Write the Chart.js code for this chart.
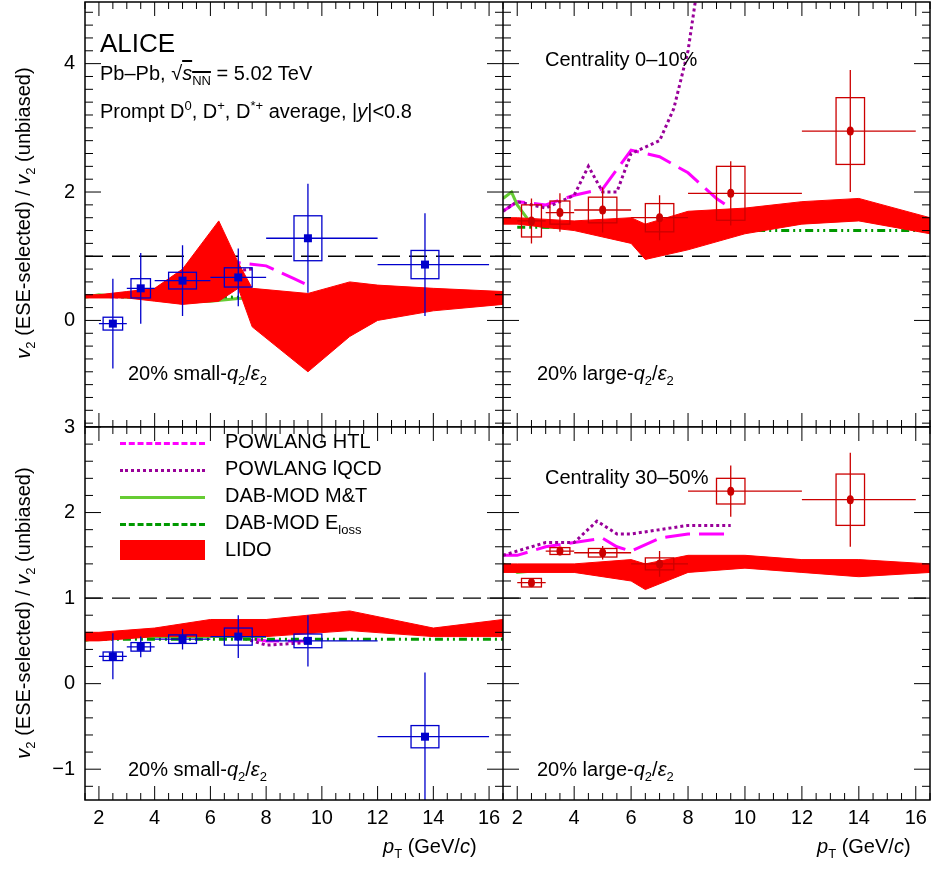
<!DOCTYPE html>
<html lang="en">
<head>
<meta charset="UTF-8">
<title>v2 ESE ratio</title>
<script src="https://cdn.jsdelivr.net/npm/chart.js"></script>
<style>
body{margin:0;width:950px;height:869px;background:#fff;font-family:"Liberation Sans",Arial,sans-serif;position:relative;overflow:hidden}
canvas{position:absolute}
.t{position:absolute;font-size:20px;white-space:nowrap;color:#000}
.lg{position:absolute;left:120px;width:85px}
</style>
</head>
<body>
<canvas id="tl" style="left:0;top:0" width="503" height="427"></canvas>
<canvas id="tr" style="left:503px;top:0" width="447" height="427"></canvas>
<canvas id="bl" style="left:0;top:417px" width="503" height="452"></canvas>
<canvas id="br" style="left:503px;top:417px" width="447" height="452"></canvas>

<div class="t" style="left:100px;top:28px;font-size:26px">ALICE</div>
<div class="t" style="left:100px;top:62px">Pb–Pb, √<span style="text-decoration:overline"><i>s</i><sub style="font-size:13px">NN</sub></span> = 5.02 TeV</div>
<div class="t" style="left:100px;top:98px">Prompt D<sup style="font-size:13px">0</sup>, D<sup style="font-size:13px">+</sup>, D<sup style="font-size:13px">*+</sup> average, |<i>y</i>|&lt;0.8</div>
<div class="t" style="left:545px;top:48px">Centrality 0–10%</div>
<div class="t" style="left:545px;top:466px">Centrality 30–50%</div>
<div class="t" style="left:128px;top:362px">20% small-<i>q</i><sub style="font-size:13px">2</sub>/<i>ε</i><sub style="font-size:13px">2</sub></div>
<div class="t" style="left:537px;top:362px">20% large-<i>q</i><sub style="font-size:13px">2</sub>/<i>ε</i><sub style="font-size:13px">2</sub></div>
<div class="t" style="left:128px;top:758px">20% small-<i>q</i><sub style="font-size:13px">2</sub>/<i>ε</i><sub style="font-size:13px">2</sub></div>
<div class="t" style="left:537px;top:758px">20% large-<i>q</i><sub style="font-size:13px">2</sub>/<i>ε</i><sub style="font-size:13px">2</sub></div>
<div class="t" style="left:-155px;top:200px;width:360px;text-align:center;transform:rotate(-90deg)"><i>v</i><sub style="font-size:13px">2</sub> (ESE-selected) / <i>v</i><sub style="font-size:13px">2</sub> (unbiased)</div>
<div class="t" style="left:-155px;top:600px;width:360px;text-align:center;transform:rotate(-90deg)"><i>v</i><sub style="font-size:13px">2</sub> (ESE-selected) / <i>v</i><sub style="font-size:13px">2</sub> (unbiased)</div>
<div class="t" style="left:383px;top:835px"><i>p</i><sub style="font-size:13px">T</sub> (GeV/<i>c</i>)</div>
<div class="t" style="left:817px;top:835px"><i>p</i><sub style="font-size:13px">T</sub> (GeV/<i>c</i>)</div>

<div class="lg" style="top:442px;border-top:3px dashed #ff00ff"></div>
<div class="t" style="left:225px;top:430px">POWLANG HTL</div>
<div class="lg" style="top:469px;border-top:3px dotted #990099"></div>
<div class="t" style="left:225px;top:457px">POWLANG lQCD</div>
<div class="lg" style="top:496px;border-top:3px solid #66cc33"></div>
<div class="t" style="left:225px;top:484px">DAB-MOD M&amp;T</div>
<div class="lg" style="top:523px;border-top:3px dashed #009900"></div>
<div class="t" style="left:225px;top:511px">DAB-MOD E<sub style="font-size:13px">loss</sub></div>
<div class="lg" style="top:540px;height:20px;background:#ff0000"></div>
<div class="t" style="left:225px;top:538px">LIDO</div>

<script>
// bins shared by all panels
const ptC = [2.5, 3.5, 5, 7, 9.5, 13.7];
const ptLo = [2, 3, 4, 6, 8, 12];
const ptHi = [3, 4, 6, 8, 12, 16];
const boxHW = [0.35, 0.35, 0.5, 0.5, 0.5, 0.5];
const xTickLabels = [2, 4, 6, 8, 10, 12, 14, 16];

// 0-10%, small q2
const tlY = [-0.05, 0.5, 0.62, 0.67, 1.28, 0.87];
const tlStat = [0.7, 0.55, 0.55, 0.45, 0.85, 0.8];
const tlSyst = [0.1, 0.15, 0.13, 0.15, 0.35, 0.22];
// 0-10%, large q2
const trY = [1.55, 1.68, 1.72, 1.6, 1.98, 2.95];
const trStat = [0.35, 0.3, 0.35, 0.35, 0.5, 0.95];
const trSyst = [0.25, 0.18, 0.2, 0.22, 0.42, 0.52];
// 30-50%, small q2
const blY = [0.32, 0.43, 0.52, 0.55, 0.5, -0.62];
const blStat = [0.27, 0.12, 0.12, 0.25, 0.3, 0.75];
const blSyst = [0.05, 0.05, 0.05, 0.1, 0.08, 0.13];
// 30-50%, large q2
const brY = [1.18, 1.55, 1.53, 1.4, 2.25, 2.15];
const brStat = [0.05, 0.05, 0.08, 0.15, 0.3, 0.55];
const brSyst = [0.05, 0.04, 0.05, 0.07, 0.15, 0.3];

// models, [pT, ratio]
const tlHtl = [[1.5,0.38],[2,0.38],[3,0.42],[4,0.45],[5,0.55],[6,0.75],[7,0.9],[8,0.85],[9,0.65],[9.5,0.55]];
const tlLqcd = [[1.5,0.38],[2,0.38],[3,0.36],[4,0.4],[5,0.48],[6,0.62],[7,0.78],[7.5,0.8]];
const tlMt = [[1.5,0.36],[2,0.4],[3,0.36],[4,0.35],[5,0.3],[6,0.3],[7,0.34],[8,0.36]];
const tlEl = [[2,0.38],[4,0.37],[8,0.36],[12,0.36],[16.5,0.37]];
const tlLidoHi = [[1.5,0.4],[2,0.4],[3,0.45],[4,0.5],[5,0.8],[6.3,1.55],[7,0.9],[7.5,0.5],[9.5,0.42],[11,0.6],[12,0.55],[14,0.5],[16.5,0.45]];
const tlLidoLo = [[1.5,0.35],[2,0.35],[3,0.35],[4,0.3],[5,0.25],[6.3,0.3],[7,0.5],[7.5,-0.1],[9.5,-0.8],[11,-0.25],[12,0],[14,0.15],[16.5,0.25]];

const trHtl = [[1.5,1.7],[2,1.85],[3,1.8],[4,1.95],[5,2.05],[6,2.65],[7,2.55],[8,2.3],[9,1.9],[9.5,1.75]];
const trLqcd = [[1.5,1.7],[2,1.85],[3,1.75],[4,1.95],[4.5,2.4],[5,2.0],[5.5,2.0],[6,2.6],[6.5,2.7],[7,2.8],[7.5,3.3],[8,4.2],[8.3,5.1]];
const trMt = [[1.5,1.9],[1.8,2.0],[2,1.8],[2.5,1.5],[3,1.45],[4,1.45],[6,1.45],[8,1.45]];
const trEl = [[2,1.45],[4,1.45],[8,1.4],[12,1.4],[16.5,1.4]];
const trLidoHi = [[1.5,1.6],[2,1.6],[4,1.55],[6,1.6],[6.5,1.5],[8,1.7],[10,1.75],[12,1.85],[14,1.9],[16.5,1.6]];
const trLidoLo = [[1.5,1.5],[2,1.5],[4,1.4],[6,1.2],[6.5,0.95],[8,1.1],[10,1.35],[12,1.5],[14,1.55],[16.5,1.35]];

const blHtl = [[1.5,0.52],[2,0.55],[4,0.58],[6,0.6],[7,0.55],[8,0.5],[9.5,0.5]];
const blLqcd = [[1.5,0.52],[2,0.55],[4,0.55],[6,0.65],[7,0.55],[8,0.45],[9.5,0.48]];
const blMt = [[1.5,0.5],[2,0.55],[4,0.55],[8,0.55]];
const blEl = [[2,0.52],[8,0.52],[16.5,0.52]];
const blLidoHi = [[1.5,0.6],[2,0.6],[4,0.65],[6,0.75],[8,0.75],[11,0.85],[14,0.65],[16.5,0.75]];
const blLidoLo = [[1.5,0.5],[2,0.5],[4,0.55],[6,0.55],[8,0.55],[11,0.62],[14,0.55],[16.5,0.55]];

const brHtl = [[1.5,1.5],[2,1.5],[3,1.6],[4,1.65],[5,1.7],[5.5,1.6],[6,1.55],[7,1.7],[8,1.75],[9.5,1.75]];
const brLqcd = [[1.5,1.5],[2,1.55],[3,1.65],[4,1.65],[4.8,1.9],[5.5,1.75],[6,1.75],[7,1.8],[8,1.85],[9.5,1.85]];
const brMt = [[1.5,1.4],[1.8,1.35],[2,1.3],[3,1.33],[5,1.35],[8,1.35]];
const brEl = [[2,1.35],[8,1.38],[12,1.38],[16.5,1.38]];
const brLidoHi = [[1.5,1.4],[2,1.4],[4,1.4],[6,1.45],[6.5,1.4],[8,1.5],[10,1.5],[12,1.45],[14,1.45],[16.5,1.4]];
const brLidoLo = [[1.5,1.3],[2,1.3],[4,1.3],[6,1.2],[6.5,1.1],[8,1.3],[10,1.35],[12,1.3],[14,1.25],[16.5,1.3]];

const xy = a => a.map(p => ({x: p[0], y: p[1]}));

// error bars, syst boxes, markers, frame, inward ticks and tick labels
const rootPlugin = {
    id: 'root',
    afterDatasetsDraw(chart) {
        const o = chart.options.plugins.root;
        const ctx = chart.ctx, xs = chart.scales.x, ys = chart.scales.y, a = chart.chartArea;
        ctx.save();
        ctx.beginPath();
        ctx.rect(a.left, a.top, a.right - a.left, a.bottom - a.top);
        ctx.clip();
        ctx.strokeStyle = o.color;
        ctx.fillStyle = o.color;
        ctx.lineWidth = 1.3;
        for (let i = 0; i < ptC.length; i++) {
            const px = xs.getPixelForValue(ptC[i]), py = ys.getPixelForValue(o.y[i]);
            ctx.beginPath();
            ctx.moveTo(xs.getPixelForValue(ptLo[i]), py);
            ctx.lineTo(xs.getPixelForValue(ptHi[i]), py);
            ctx.moveTo(px, ys.getPixelForValue(o.y[i] - o.stat[i]));
            ctx.lineTo(px, ys.getPixelForValue(o.y[i] + o.stat[i]));
            ctx.stroke();
            const bx = xs.getPixelForValue(ptC[i] - boxHW[i]), bx2 = xs.getPixelForValue(ptC[i] + boxHW[i]);
            const by = ys.getPixelForValue(o.y[i] + o.syst[i]), by2 = ys.getPixelForValue(o.y[i] - o.syst[i]);
            ctx.strokeRect(bx, by, bx2 - bx, by2 - by);
            ctx.beginPath();
            if (o.square) ctx.rect(px - 4, py - 4, 8, 8);
            else ctx.ellipse(px, py, 3.5, 4.5, 0, 0, Math.PI * 2);
            ctx.fill();
        }
        ctx.restore();
        ctx.save();
        ctx.strokeStyle = '#000';
        ctx.lineWidth = 1.5;
        ctx.strokeRect(a.left, a.top, a.right - a.left, a.bottom - a.top);
        ctx.lineWidth = 1;
        ctx.beginPath();
        for (let v = 1.5; v <= 16.5; v += 0.5) {
            const p = xs.getPixelForValue(v);
            const L = v % 2 === 0 ? 14 : 7;
            ctx.moveTo(p, a.bottom); ctx.lineTo(p, a.bottom - L);
            ctx.moveTo(p, a.top); ctx.lineTo(p, a.top + L);
        }
        for (let k = Math.ceil(ys.min * 5); k <= ys.max * 5; k++) {
            const vv = k / 5;
            const p = ys.getPixelForValue(vv);
            const L = k % (o.step * 5) === 0 ? 16 : 8;
            ctx.moveTo(a.left, p); ctx.lineTo(a.left + L, p);
            ctx.moveTo(a.right, p); ctx.lineTo(a.right - L, p);
        }
        ctx.stroke();
        ctx.fillStyle = '#000';
        ctx.font = '20px "Liberation Sans", Arial, sans-serif';
        if (o.left) {
            ctx.textAlign = 'right';
            ctx.textBaseline = 'middle';
            o.yLabels.forEach(v => ctx.fillText(String(v).replace('-', '\u2212'), a.left - 10, ys.getPixelForValue(v)));
        }
        if (o.bottom) {
            ctx.textAlign = 'center';
            ctx.textBaseline = 'top';
            xTickLabels.forEach(v => ctx.fillText(String(v), xs.getPixelForValue(v), a.bottom + 8));
        }
        ctx.restore();
    }
};

function makeChart(id, cfg) {
    const ds = [
        {data: xy(cfg.lidoHi), borderColor: '#ff0000', backgroundColor: '#ff0000', borderWidth: 1, fill: '+1', pointRadius: 0},
        {data: xy(cfg.lidoLo), borderColor: '#ff0000', borderWidth: 1, fill: false, pointRadius: 0},
        {data: xy([[1.5,1],[16.5,1]]), borderColor: '#000', borderWidth: 1.3, borderDash: [18, 9], pointRadius: 0, fill: false},
        {data: xy(cfg.el), borderColor: '#009900', borderWidth: 3, borderDash: [8, 4, 2, 4, 2, 4], pointRadius: 0, fill: false},
        {data: xy(cfg.mt), borderColor: '#66cc33', borderWidth: 3, pointRadius: 0, fill: false},
        {data: xy(cfg.lqcd), borderColor: '#990099', borderWidth: 3, borderDash: [3, 3], pointRadius: 0, fill: false},
        {data: xy(cfg.htl), borderColor: '#ff00ff', borderWidth: 3, borderDash: [25, 9], pointRadius: 0, fill: false}
    ];
    return new Chart(document.getElementById(id), {
        type: 'line',
        data: {datasets: ds},
        plugins: [rootPlugin],
        options: {
            responsive: false,
            animation: false,
            layout: {padding: {top: cfg.bottom ? 10 : 2, right: cfg.left ? 0 : 20, bottom: 0, left: 0}},
            plugins: {
                legend: {display: false},
                tooltip: {enabled: false},
                root: {y: cfg.y, stat: cfg.stat, syst: cfg.syst, color: cfg.color, square: cfg.left,
                    left: cfg.left, bottom: cfg.bottom, step: cfg.step, yLabels: cfg.yLabels}
            },
            scales: {
                x: {
                    type: 'linear', min: 1.5, max: 16.5,
                    grid: {display: false},
                    border: {display: false},
                    ticks: {display: false},
                    afterFit: s => { s.height = cfg.bottom ? 69 : 0; }
                },
                y: {
                    min: cfg.ymin, max: cfg.ymax,
                    grid: {display: false},
                    border: {display: false},
                    ticks: {display: false},
                    afterFit: s => { s.width = cfg.left ? 85 : 0; }
                }
            }
        }
    });
}

const rowTop = {ymin: -1.66, ymax: 4.96, step: 2, bottom: false, yLabels: [0, 2, 4]};
const rowBot = {ymin: -1.36, ymax: 3.0, step: 1, bottom: true, yLabels: [-1, 0, 1, 2, 3]};
makeChart('tl', Object.assign({}, rowTop, {left: true, color: '#0000cc', y: tlY, stat: tlStat, syst: tlSyst,
    htl: tlHtl, lqcd: tlLqcd, mt: tlMt, el: tlEl, lidoHi: tlLidoHi, lidoLo: tlLidoLo}));
makeChart('tr', Object.assign({}, rowTop, {left: false, color: '#cc0000', y: trY, stat: trStat, syst: trSyst,
    htl: trHtl, lqcd: trLqcd, mt: trMt, el: trEl, lidoHi: trLidoHi, lidoLo: trLidoLo}));
makeChart('bl', Object.assign({}, rowBot, {left: true, color: '#0000cc', y: blY, stat: blStat, syst: blSyst,
    htl: blHtl, lqcd: blLqcd, mt: blMt, el: blEl, lidoHi: blLidoHi, lidoLo: blLidoLo}));
makeChart('br', Object.assign({}, rowBot, {left: false, color: '#cc0000', y: brY, stat: brStat, syst: brSyst,
    htl: brHtl, lqcd: brLqcd, mt: brMt, el: brEl, lidoHi: brLidoHi, lidoLo: brLidoLo}));
</script>
</body>
</html>
